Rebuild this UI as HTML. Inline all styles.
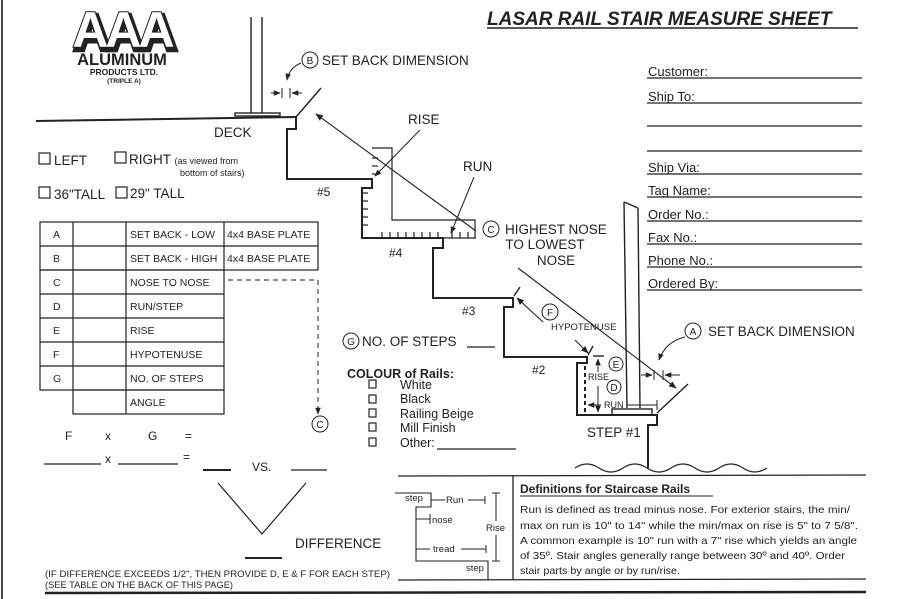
<!DOCTYPE html>
<html><head><meta charset="utf-8"><style>
html,body{margin:0;padding:0;background:#fff}
svg{display:block}
text{font-family:"Liberation Sans",Arial,sans-serif;fill:#222}
</style></head><body>
<svg width="911" height="599" viewBox="0 0 911 599" xmlns="http://www.w3.org/2000/svg">
<defs>
<marker id="ar" viewBox="0 0 10 10" refX="9" refY="5" markerWidth="7" markerHeight="7" orient="auto-start-reverse"><path d="M0,1 L10,5 L0,9 z" fill="#222"/></marker>
</defs>
<rect width="911" height="599" fill="#fff"/>
<line x1="2" y1="0" x2="2" y2="599" stroke="#444" stroke-width="2"/>
<text x="124" y="50" text-anchor="middle" font-size="50" font-weight="bold" letter-spacing="-3" style="fill:#222;stroke:#222;stroke-width:5">AAA</text>
<text x="122" y="47" text-anchor="middle" font-size="50" font-weight="bold" letter-spacing="-3" style="fill:#fff;stroke:#222;stroke-width:2;paint-order:stroke">AAA</text>
<text x="122" y="65" text-anchor="middle" font-size="16.5" font-weight="bold">ALUMINUM</text>
<text x="124" y="75" text-anchor="middle" font-size="8.5" font-weight="bold">PRODUCTS LTD.</text>
<text x="124" y="83" text-anchor="middle" font-size="6.5" font-weight="bold">(TRIPLE A)</text>

<text x="487" y="25" font-size="19" font-weight="bold" font-style="italic">LASAR RAIL STAIR MEASURE SHEET</text>
<line x1="487" y1="28" x2="858" y2="28" stroke="#222" stroke-width="1.5"/>

<g font-size="13">
<text x="648" y="76">Customer:</text>
<text x="648" y="101">Ship To:</text>
<text x="648" y="172">Ship Via:</text>
<text x="648" y="195">Tag Name:</text>
<text x="648" y="219">Order No.:</text>
<text x="648" y="242">Fax No.:</text>
<text x="648" y="265">Phone No.:</text>
<text x="648" y="288">Ordered By:</text>
</g>
<g stroke="#222" stroke-width="1.2">
<line x1="647" y1="78" x2="862" y2="78"/>
<line x1="647" y1="103" x2="862" y2="103"/>
<line x1="647" y1="126" x2="862" y2="126"/>
<line x1="647" y1="151" x2="862" y2="151"/>
<line x1="647" y1="174" x2="862" y2="174"/>
<line x1="647" y1="197" x2="862" y2="197"/>
<line x1="647" y1="221" x2="862" y2="221"/>
<line x1="647" y1="244" x2="862" y2="244"/>
<line x1="647" y1="267" x2="862" y2="267"/>
<line x1="647" y1="290" x2="862" y2="290"/>
</g>

<g stroke="#222" fill="none" stroke-width="1.4">
<line x1="251" y1="17" x2="251" y2="113"/>
<line x1="262" y1="17" x2="262" y2="113"/>
<rect x="235" y="113" width="45" height="3"/>
<line x1="36" y1="121" x2="296" y2="117" stroke-width="2"/>
<polyline stroke-width="2" points="296,117 296,129 287,129 287,179 372,179 372,188 362,188 362,238 443,238 443,248 433,248 433,298 513,298 513,307 504,307 504,357 587,357 587,363 577,363 577,415 657,415 657,425 648,425 648,468"/>
<line x1="296" y1="117" x2="321" y2="88"/>
<line x1="657" y1="413" x2="688" y2="384"/>
<line x1="514" y1="296" x2="520" y2="287"/>
<line x1="588" y1="355" x2="593" y2="346"/>
<line x1="476" y1="231" x2="316" y2="114" marker-end="url(#ar)" stroke-width="1.1"/>
<line x1="518" y1="268" x2="676" y2="388" marker-end="url(#ar)" stroke-width="1.1"/>
<line x1="543" y1="322" x2="517" y2="298" marker-end="url(#ar)" stroke-width="1.1"/>
<line x1="575" y1="340" x2="588" y2="353" marker-end="url(#ar)" stroke-width="1.1"/>
<line x1="624" y1="202" x2="627" y2="408"/>
<line x1="624" y1="202" x2="638" y2="208"/>
<line x1="638" y1="208" x2="640" y2="408"/>
<rect x="612" y="409" width="40" height="6"/>
<path d="M372,148 L392,148 L392,220 L475,220 L475,238" stroke-width="1.2"/>
<path d="M575,468 q12,-8 24,0 t24,0 t24,0 t24,0 t24,0 t24,0 t24,0 t24,0" stroke-width="1.2"/>
<line x1="585" y1="366" x2="585" y2="412" stroke-dasharray="4,3" stroke-width="2"/>
<line x1="593" y1="356" x2="604" y2="356"/>
<line x1="598" y1="372" x2="598" y2="359" marker-end="url(#ar)" stroke-width="1"/>
<line x1="598" y1="386" x2="598" y2="412" marker-end="url(#ar)" stroke-width="1"/>
<line x1="601" y1="405" x2="588" y2="405" marker-end="url(#ar)" stroke-width="1"/>
<line x1="627" y1="405" x2="657" y2="405" stroke-width="1"/>
<line x1="657" y1="400" x2="657" y2="410" stroke-width="1"/>
<circle cx="616" cy="364" r="7" stroke-width="1"/>
<circle cx="614" cy="387" r="7" stroke-width="1"/>
<circle cx="693" cy="331" r="8" stroke-width="1"/>
<path d="M685,337 Q665,342 659,360" marker-end="url(#ar)" stroke-width="1"/>
<line x1="641" y1="375" x2="652" y2="375" marker-end="url(#ar)" stroke-width="1"/>
<line x1="680" y1="375" x2="665" y2="375" marker-end="url(#ar)" stroke-width="1"/>
<line x1="654" y1="370" x2="654" y2="380" stroke-width="1"/>
<line x1="663" y1="370" x2="663" y2="380" stroke-width="1"/>
<circle cx="310" cy="60" r="8" stroke-width="1"/>
<path d="M301,63 Q289,68 287,80" marker-end="url(#ar)" stroke-width="1"/>
<line x1="271" y1="93" x2="280" y2="93" marker-end="url(#ar)" stroke-width="1"/>
<line x1="302" y1="93" x2="292" y2="93" marker-end="url(#ar)" stroke-width="1"/>
<line x1="282" y1="88" x2="282" y2="98" stroke-width="1"/>
<line x1="290" y1="88" x2="290" y2="98" stroke-width="1"/>
<line x1="420" y1="130" x2="375" y2="176" marker-end="url(#ar)" stroke-width="1"/>
<line x1="474" y1="177" x2="451" y2="233" marker-end="url(#ar)" stroke-width="1"/>
<circle cx="491" cy="229" r="8" stroke-width="1"/>
<circle cx="550" cy="312" r="8" stroke-width="1"/>
<circle cx="351" cy="341" r="8" stroke-width="1"/>
<line x1="467" y1="347" x2="495" y2="347" stroke-width="1.3"/>
<polyline points="228,280 318,280 318,410" stroke-dasharray="5,4" stroke-width="1"/>
<line x1="318" y1="410" x2="318" y2="414" marker-end="url(#ar)" stroke-width="1"/>
<circle cx="320" cy="424" r="8" stroke-width="1"/>
</g>
<g stroke="#222" stroke-width="1.2">
<line x1="372" y1="158" x2="378" y2="158"/><line x1="372" y1="166" x2="378" y2="166"/><line x1="372" y1="174" x2="378" y2="174"/>
<line x1="362" y1="193" x2="368" y2="193"/><line x1="362" y1="201" x2="368" y2="201"/><line x1="362" y1="209" x2="368" y2="209"/><line x1="362" y1="217" x2="368" y2="217"/><line x1="362" y1="225" x2="368" y2="225"/>
<line x1="382" y1="232" x2="382" y2="238"/><line x1="390" y1="232" x2="390" y2="238"/><line x1="398" y1="232" x2="398" y2="238"/><line x1="406" y1="232" x2="406" y2="238"/><line x1="414" y1="232" x2="414" y2="238"/><line x1="422" y1="232" x2="422" y2="238"/><line x1="430" y1="232" x2="430" y2="238"/><line x1="438" y1="232" x2="438" y2="238"/><line x1="452" y1="230" x2="452" y2="238"/><line x1="460" y1="232" x2="460" y2="238"/><line x1="468" y1="232" x2="468" y2="238"/>
<line x1="443" y1="238" x2="476" y2="238"/>
</g>
<g font-size="13.5">
<text x="322" y="65">SET BACK DIMENSION</text>
<text x="214" y="137">DECK</text>
<text x="408" y="124">RISE</text>
<text x="463" y="171">RUN</text>
<text x="505" y="234">HIGHEST NOSE</text>
<text x="545" y="249" text-anchor="middle">TO LOWEST</text>
<text x="556" y="265" text-anchor="middle">NOSE</text>
<text x="708" y="336">SET BACK DIMENSION</text>
<text x="362" y="346">NO. OF STEPS</text>
<text x="587" y="437">STEP #1</text>
<text x="295" y="548">DIFFERENCE</text>
</g>
<g font-size="12">
<text x="317" y="196">#5</text>
<text x="389" y="257">#4</text>
<text x="462" y="315">#3</text>
<text x="532" y="374">#2</text>
</g>
<g font-size="10" text-anchor="middle">
<text x="310" y="64">B</text><text x="491" y="233">C</text><text x="693" y="335">A</text><text x="550" y="316">F</text><text x="351" y="345">G</text><text x="320" y="428">C</text><text x="616" y="368">E</text><text x="614" y="391">D</text>
</g>
<text x="551" y="330" font-size="9.5">HYPOTENUSE</text>
<text x="588" y="380" font-size="9">RISE</text>
<text x="604" y="408" font-size="9">RUN</text>

<g stroke="#222" fill="none" stroke-width="1.2">
<rect x="39" y="153" width="11" height="11"/><rect x="115" y="152" width="11" height="11"/>
<rect x="39" y="187" width="11" height="11"/><rect x="116" y="187" width="11" height="11"/>
</g>
<text x="54" y="165" font-size="13.5">LEFT</text>
<text x="129" y="164" font-size="13.5">RIGHT <tspan font-size="9">(as viewed from</tspan></text>
<text x="180" y="176" font-size="9">bottom of stairs)</text>
<text x="54" y="199" font-size="13.5">36"TALL</text>
<text x="130" y="198" font-size="13.5">29" TALL</text>

<g stroke="#222" stroke-width="1.2" fill="none">
<rect x="40" y="222" width="278" height="48"/>
<line x1="40" y1="246" x2="318" y2="246"/>
<line x1="224" y1="222" x2="224" y2="270"/>
<rect x="40" y="270" width="184" height="120"/>
<line x1="40" y1="294" x2="224" y2="294"/><line x1="40" y1="318" x2="224" y2="318"/><line x1="40" y1="342" x2="224" y2="342"/><line x1="40" y1="366" x2="224" y2="366"/>
<rect x="73" y="390" width="151" height="24"/>
<line x1="73" y1="222" x2="73" y2="390"/>
<line x1="126" y1="222" x2="126" y2="414"/>
</g>
<g font-size="10.5">
<text x="53" y="238">A</text><text x="53" y="262">B</text><text x="53" y="286">C</text><text x="53" y="310">D</text><text x="53" y="334">E</text><text x="53" y="358">F</text><text x="53" y="382">G</text>
<text x="130" y="238">SET BACK - LOW</text><text x="227" y="238">4x4 BASE PLATE</text>
<text x="130" y="262">SET BACK - HIGH</text><text x="227" y="262">4x4 BASE PLATE</text>
<text x="130" y="286">NOSE TO NOSE</text><text x="130" y="310">RUN/STEP</text><text x="130" y="334">RISE</text><text x="130" y="358">HYPOTENUSE</text><text x="130" y="382">NO. OF STEPS</text><text x="130" y="406">ANGLE</text>
</g>

<g font-size="12">
<text x="65" y="440">F</text><text x="105" y="440">x</text><text x="148" y="440">G</text><text x="185" y="440">=</text>
<text x="105" y="463">x</text><text x="183" y="461">=</text>
<text x="252" y="471">VS.</text>
</g>
<g stroke="#222" stroke-width="1.2" fill="none">
<line x1="44" y1="464" x2="101" y2="464"/><line x1="118" y1="464" x2="178" y2="464"/>
<line x1="203" y1="470" x2="231" y2="470" stroke-width="2"/><line x1="291" y1="470" x2="327" y2="470"/>
<polyline points="218,483 262,534 306,483"/>
<line x1="245" y1="558" x2="282" y2="558" stroke-width="2"/>
<line x1="45" y1="593" x2="866" y2="592" stroke-width="2.5"/>
</g>
<text x="45" y="577" font-size="9" textLength="345" lengthAdjust="spacingAndGlyphs">(IF DIFFERENCE EXCEEDS 1/2", THEN PROVIDE D, E &amp; F FOR EACH STEP)</text>
<text x="45" y="588" font-size="9" textLength="188" lengthAdjust="spacingAndGlyphs">(SEE TABLE ON THE BACK OF THIS PAGE)</text>

<text x="347" y="378" font-size="12.5" font-weight="bold">COLOUR of Rails:</text>
<g stroke="#222" fill="none" stroke-width="1.2">
<rect x="369" y="380" width="7" height="8"/><rect x="369" y="395" width="7" height="8"/><rect x="369" y="409" width="7" height="8"/><rect x="369" y="423" width="7" height="8"/><rect x="369" y="438" width="7" height="8"/>
<line x1="437" y1="449" x2="516" y2="449"/>
</g>
<g font-size="12.5">
<text x="400" y="389">White</text><text x="400" y="403">Black</text><text x="400" y="418">Railing Beige</text><text x="400" y="432">Mill Finish</text><text x="400" y="447">Other:</text>
</g>

<g stroke="#222" fill="none" stroke-width="1.3">
<line x1="398" y1="476" x2="866" y2="475"/>
<line x1="398" y1="580" x2="866" y2="579"/>
<line x1="513" y1="476" x2="513" y2="580"/>
<polyline points="395,493 431,493 431,507 416,507 416,561 488,561 488,580" stroke-width="1.1"/>
<g stroke-width="1">
<line x1="431" y1="500" x2="445" y2="500"/><line x1="468" y1="500" x2="485" y2="500"/><line x1="485" y1="496" x2="485" y2="504"/>
<line x1="416" y1="519" x2="430" y2="519"/><line x1="430" y1="514" x2="430" y2="524"/>
<line x1="416" y1="549" x2="430" y2="549"/><line x1="461" y1="549" x2="486" y2="549"/><line x1="486" y1="545" x2="486" y2="553"/>
<line x1="496" y1="493" x2="496" y2="521"/><line x1="496" y1="535" x2="496" y2="561"/><line x1="492" y1="493" x2="500" y2="493"/><line x1="492" y1="561" x2="500" y2="561"/>
</g>
</g>
<g font-size="9.5">
<text x="405" y="501">step</text><text x="446" y="503">Run</text><text x="432" y="523">nose</text><text x="433" y="552">tread</text><text x="486" y="531">Rise</text><text x="466" y="571">step</text>
</g>
<text x="520" y="493" font-size="12" font-weight="bold">Definitions for Staircase Rails</text>
<line x1="520" y1="496" x2="713" y2="496" stroke="#222" stroke-width="1"/>
<g font-size="10.5">
<text x="520" y="513" textLength="330" lengthAdjust="spacingAndGlyphs">Run is defined as tread minus nose. For exterior stairs, the min/</text>
<text x="520" y="529" textLength="338" lengthAdjust="spacingAndGlyphs">max on run is 10" to 14" while the min/max on rise is 5" to 7 5/8".</text>
<text x="520" y="544" textLength="337" lengthAdjust="spacingAndGlyphs">A common example is 10" run with a 7" rise which yields an angle</text>
<text x="520" y="559" textLength="325" lengthAdjust="spacingAndGlyphs">of 35º. Stair angles generally range between 30º and 40º. Order</text>
<text x="520" y="574" textLength="160" lengthAdjust="spacingAndGlyphs">stair parts by angle or by run/rise.</text>
</g>
</svg>
</body></html>
